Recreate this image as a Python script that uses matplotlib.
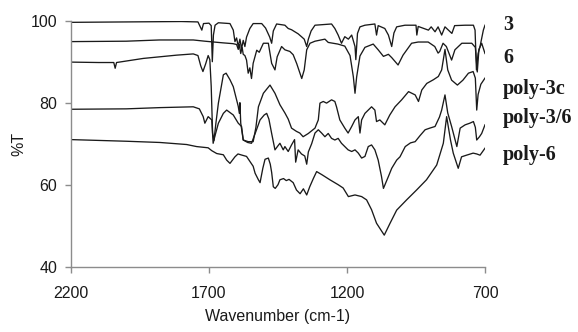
import matplotlib
matplotlib.use("Agg")
import matplotlib.pyplot as plt

# ---- data: (wavenumber cm-1, %T) ----
spec_3 = [(2200, 99.6), (2000, 99.7), (1800, 99.8), (1740, 99.7), (1726, 97.7), (1720, 99.3),
          (1700, 99.4), (1692, 98.8), (1688, 90.0), (1684, 96.5), (1678, 98.9), (1666, 99.5),
          (1624, 99.3), (1612, 97.7), (1606, 94.9), (1600, 95.8), (1594, 93.7), (1588, 95.5),
          (1582, 93.2), (1576, 95.2), (1570, 93.7), (1564, 96.0), (1552, 98.1), (1540, 99.3),
          (1509, 99.3), (1495, 98.2), (1480, 96.0), (1473, 94.5), (1467, 97.5), (1455, 99.2),
          (1425, 98.9), (1413, 98.1), (1401, 97.8), (1389, 97.3), (1377, 96.8), (1365, 96.1),
          (1355, 95.5), (1346, 93.7), (1340, 95.5), (1330, 97.5), (1316, 98.9), (1256, 99.2),
          (1244, 98.1), (1232, 96.5), (1220, 94.5), (1208, 96.1), (1195, 95.5), (1183, 96.5),
          (1171, 93.7), (1168, 90.5), (1162, 96.9), (1153, 98.5), (1135, 98.9), (1099, 99.2),
          (1093, 96.5), (1087, 98.8), (1063, 98.1), (1050, 96.5), (1038, 93.7), (1030, 97.0),
          (1020, 98.5), (990, 98.9), (950, 98.9), (947, 96.5), (942, 98.6), (905, 97.7),
          (895, 98.5), (881, 97.3), (870, 98.5), (857, 96.5), (845, 98.5), (820, 96.9),
          (810, 98.8), (772, 98.9), (742, 98.9), (736, 97.7), (731, 88.0), (725, 92.0),
          (718, 93.7), (706, 97.7), (700, 98.9)]

spec_6 = [(2200, 94.9), (2000, 95.0), (1880, 95.3), (1757, 95.3), (1715, 95.0), (1650, 94.6),
          (1613, 94.4), (1600, 94.2), (1594, 93.0), (1590, 94.2), (1585, 92.0), (1580, 93.5),
          (1576, 91.8), (1570, 91.5), (1564, 90.4), (1558, 87.2), (1552, 88.5), (1546, 85.9),
          (1540, 89.6), (1527, 92.8), (1518, 92.3), (1503, 94.5), (1485, 94.5), (1473, 89.6),
          (1461, 88.0), (1453, 91.2), (1437, 93.7), (1425, 92.9), (1407, 92.5), (1395, 91.7),
          (1382, 89.5), (1364, 85.9), (1355, 88.0), (1346, 92.9), (1334, 94.5), (1316, 95.0),
          (1280, 95.5), (1268, 94.7), (1233, 94.3), (1208, 93.8), (1189, 91.5), (1177, 86.3),
          (1171, 82.3), (1165, 86.3), (1153, 91.4), (1135, 93.5), (1105, 94.3), (1087, 92.9),
          (1068, 91.3), (1050, 91.8), (1038, 91.0), (1015, 89.2), (997, 91.6), (966, 94.5),
          (942, 94.8), (906, 94.8), (882, 93.7), (870, 92.1), (864, 92.5), (852, 94.5),
          (840, 93.7), (821, 90.4), (809, 92.9), (784, 94.5), (748, 94.5), (735, 93.5),
          (728, 87.5), (722, 93.0), (712, 94.5), (700, 92.0)]

spec_poly3c = [(2200, 89.9), (2100, 89.8), (2045, 89.8), (2040, 88.4), (2035, 89.8), (1938, 90.8),
               (1817, 91.6), (1757, 91.9), (1740, 91.5), (1730, 89.0), (1722, 87.6), (1712, 89.5),
               (1703, 91.5), (1697, 90.5), (1692, 84.0), (1687, 72.6), (1682, 70.8), (1675, 75.0),
               (1666, 79.9), (1648, 86.8), (1638, 87.2), (1624, 85.6), (1612, 83.9), (1600, 80.7),
               (1594, 79.1), (1590, 77.4), (1588, 80.0), (1585, 75.0), (1576, 70.9), (1558, 70.5),
               (1540, 70.5), (1530, 74.0), (1521, 79.0), (1503, 82.3), (1479, 84.3), (1461, 82.3),
               (1443, 79.5), (1425, 77.5), (1413, 76.0), (1401, 73.8), (1383, 73.0), (1371, 72.6),
               (1359, 71.7), (1340, 72.5), (1316, 73.8), (1304, 75.8), (1298, 79.9), (1286, 80.3),
               (1274, 79.9), (1256, 80.7), (1244, 80.3), (1238, 79.0), (1226, 75.8), (1208, 73.8),
               (1196, 72.6), (1183, 74.2), (1171, 75.8), (1159, 76.6), (1153, 72.6), (1147, 75.8),
               (1135, 77.4), (1111, 79.0), (1099, 78.2), (1093, 75.4), (1081, 75.8), (1063, 74.6),
               (1045, 77.0), (1026, 79.0), (1002, 80.7), (977, 82.7), (953, 81.9), (941, 80.3),
               (929, 83.1), (911, 84.7), (887, 85.6), (869, 86.4), (857, 88.0), (845, 93.0),
               (835, 88.0), (821, 85.5), (800, 84.3), (780, 85.5), (760, 87.2), (743, 87.6),
               (735, 86.0), (730, 78.2), (725, 82.0), (715, 84.5), (700, 86.0)]

spec_poly36 = [(2200, 78.4), (2000, 78.5), (1878, 78.8), (1757, 79.0), (1735, 78.5), (1721, 76.6),
               (1715, 75.0), (1703, 76.6), (1690, 75.8), (1685, 70.1), (1678, 72.0), (1666, 75.0),
               (1648, 77.4), (1636, 78.2), (1612, 77.0), (1594, 75.0), (1582, 74.2), (1576, 70.9),
               (1560, 70.3), (1546, 70.1), (1530, 73.0), (1515, 75.8), (1500, 77.0), (1491, 77.4),
               (1483, 76.0), (1473, 72.5), (1461, 68.5), (1450, 69.5), (1443, 70.1), (1431, 68.5),
               (1425, 69.3), (1413, 68.1), (1401, 69.7), (1390, 71.0), (1386, 65.5), (1377, 68.5),
               (1365, 67.5), (1353, 67.0), (1346, 65.0), (1340, 68.0), (1328, 70.0), (1316, 72.6),
               (1304, 73.4), (1292, 72.6), (1280, 71.7), (1268, 72.5), (1256, 71.3), (1244, 70.9),
               (1232, 71.3), (1220, 70.1), (1208, 69.3), (1196, 68.5), (1183, 68.1), (1171, 68.5),
               (1159, 67.7), (1147, 66.5), (1135, 66.9), (1123, 69.3), (1111, 69.7), (1099, 68.5),
               (1087, 66.0), (1075, 62.0), (1068, 59.1), (1050, 62.0), (1038, 64.0), (1020, 66.0),
               (1008, 66.8), (989, 69.3), (970, 70.2), (953, 70.5), (935, 72.0), (917, 73.4),
               (900, 73.8), (881, 74.2), (865, 76.5), (857, 78.2), (845, 81.9), (835, 77.5),
               (821, 74.2), (802, 69.3), (790, 73.8), (772, 74.6), (755, 75.0), (742, 75.4),
               (735, 74.0), (730, 70.9), (720, 71.7), (712, 72.5), (700, 74.6)]

spec_poly6 = [(2200, 71.0), (2000, 70.6), (1878, 70.3), (1781, 69.8), (1745, 69.3), (1703, 69.0),
              (1690, 68.3), (1672, 67.6), (1648, 67.3), (1636, 66.0), (1624, 65.2), (1606, 66.8),
              (1595, 67.5), (1580, 67.2), (1564, 66.9), (1550, 65.5), (1540, 64.5), (1533, 62.8),
              (1521, 61.2), (1515, 60.5), (1505, 64.0), (1497, 66.2), (1485, 66.5), (1478, 65.0),
              (1473, 63.0), (1467, 59.5), (1460, 59.1), (1450, 60.0), (1443, 61.2), (1430, 61.5),
              (1420, 61.0), (1410, 61.3), (1395, 60.5), (1383, 58.7), (1370, 57.8), (1358, 59.0),
              (1346, 57.5), (1335, 59.5), (1322, 61.5), (1310, 63.2), (1290, 62.4), (1262, 61.2),
              (1232, 60.0), (1214, 59.2), (1195, 57.1), (1171, 57.5), (1147, 57.1), (1129, 56.3),
              (1111, 53.9), (1093, 50.6), (1065, 47.7), (1044, 50.6), (1020, 53.8), (984, 56.3),
              (948, 58.7), (912, 61.2), (875, 64.8), (851, 70.1), (839, 76.6), (825, 70.9),
              (815, 67.7), (797, 64.0), (785, 66.8), (767, 67.2), (743, 67.7), (730, 67.5),
              (718, 67.2), (700, 68.9)]

series_names = ["3", "6", "poly-3c", "poly-3/6", "poly-6"]
label_T = [98.9, 90.9, 83.3, 76.2, 67.2]
x_ticks = [2200, 1700, 1200, 700]
y_ticks = [40, 60, 80, 100]

fig = plt.figure(figsize=(5.78, 3.32), dpi=100)
ax = fig.add_axes([71 / 578, (332 - 266.7) / 332, (485 - 71) / 578, (266.7 - 20.7) / 332])

for spec in [spec_3, spec_6, spec_poly3c, spec_poly36, spec_poly6]:
    xs = [p[0] for p in spec]
    ys = [p[1] for p in spec]
    ax.plot(xs, ys, color="#1a1a1a", lw=0.95, solid_joinstyle="round")

ax.set_xlim(2200, 700)
ax.set_ylim(40, 100)
ax.set_xticks(x_ticks)
ax.set_yticks(y_ticks)
for s in ["top", "right"]:
    ax.spines[s].set_visible(False)
for s in ["left", "bottom"]:
    ax.spines[s].set_color("#8c8c8c")
    ax.spines[s].set_linewidth(1.0)
ax.tick_params(axis="both", colors="#8c8c8c", length=4, width=1.0, labelcolor="#1a1a1a",
               labelsize=11.5, labelfontfamily="Liberation Sans")
ax.tick_params(axis="x", pad=10)
ax.tick_params(axis="y", pad=6)
ax.set_xlabel("Wavenumber (cm-1)", fontsize=11.5, family="Liberation Sans", color="#1a1a1a", labelpad=6)
ax.set_ylabel("%T", fontsize=11.5, family="Liberation Sans", color="#1a1a1a", labelpad=3)

for name, t in zip(series_names, label_T):
    ax.text(634, t, name, fontsize=14.5, fontweight="bold", family="Liberation Serif",
            va="center", ha="left", color="#1a1a1a", clip_on=False)

fig.savefig("out.png", dpi=100)
